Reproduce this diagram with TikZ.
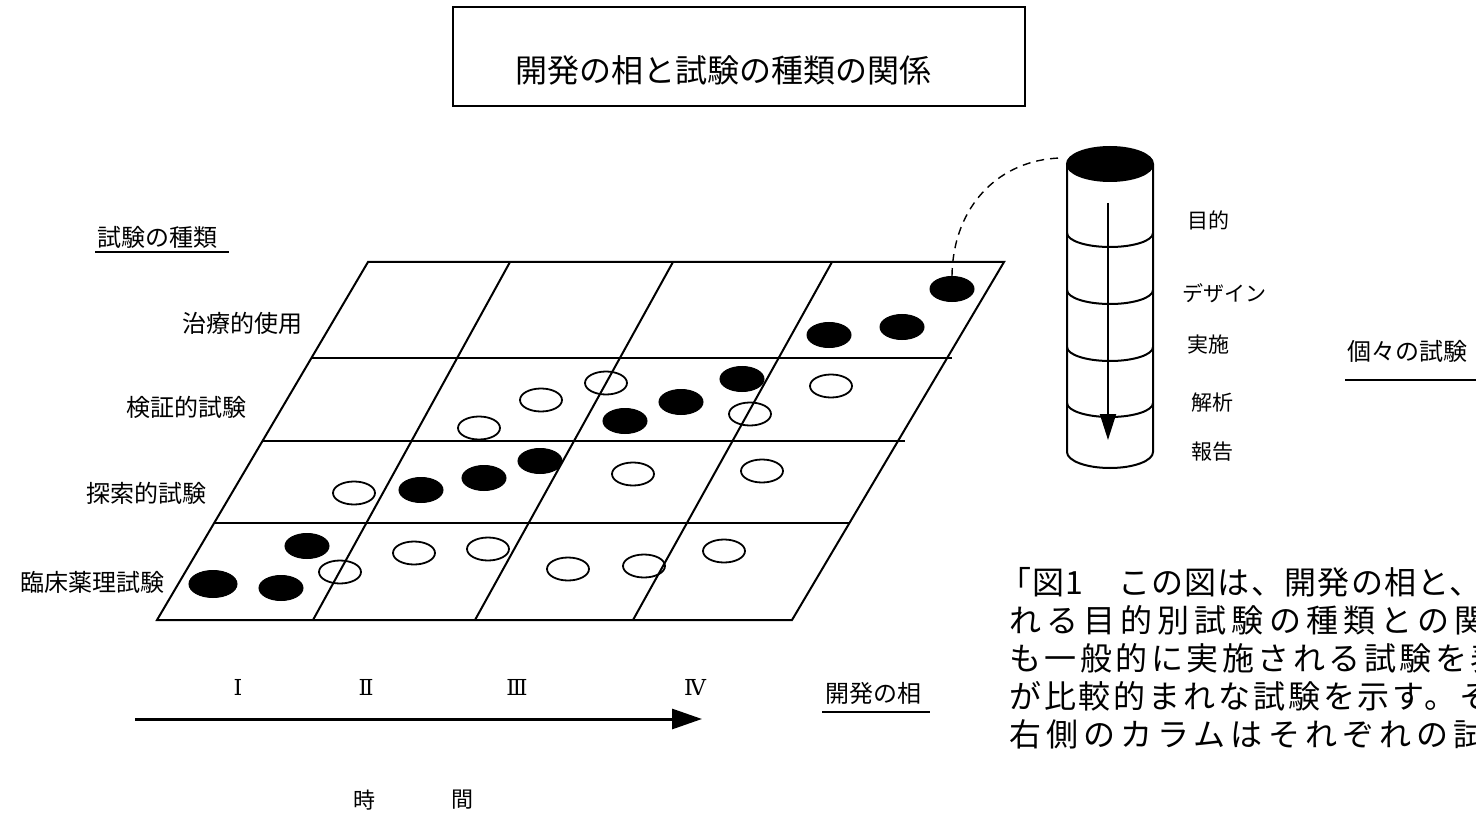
\documentclass[tikz,border=0pt]{standalone}
\usepackage{fontspec}
\setmainfont{Liberation Serif}
\newfontfamily\jp{Noto Sans CJK JP}
\newfontfamily\rn{DejaVu Serif}
\usetikzlibrary{arrows.meta,shapes.geometric}
\newcommand{\capls}[1]{\addfontfeature{LetterSpace=#1}}
\begin{document}
\begin{tikzpicture}[x=1pt,y=-1pt,
  gridline/.style={line width=2pt},
  bdot/.style={ellipse,fill=black,draw=black,line width=1pt,minimum width=44pt,minimum height=25pt,inner sep=0pt},
  wdot/.style={ellipse,draw=black,line width=1.8pt,minimum width=42pt,minimum height=23pt,inner sep=0pt},
  lab/.style={font=\jp\fontsize{24}{24}\selectfont,inner sep=0pt},
  small/.style={font=\jp\fontsize{21}{21}\selectfont,inner sep=0pt},
  roman/.style={font=\rn\fontsize{22}{22}\selectfont,inner sep=0pt},
  captext/.style={font=\jp\fontsize{32}{32}\selectfont,inner sep=0pt,anchor=base west},
  uline/.style={line width=1.6pt}]
\useasboundingbox (0,0) rectangle (1476,813);
\clip (0,0) rectangle (1476,813);
\fill[white] (0,0) rectangle (1476,813);

% title
\node[draw,line width=2.5pt,minimum width=572pt,minimum height=99pt,inner sep=0pt] (titlebox) at (739,56.5) {};
\node[font=\jp\fontsize{32}{32}\selectfont,inner sep=0pt] (title) at (723,70) {開発の相と試験の種類の関係};

% grid
\coordinate (t0) at (368,262); \coordinate (t1) at (510,262); \coordinate (t2) at (673,262);
\coordinate (t3) at (832,262); \coordinate (t4) at (1004,262);
\coordinate (b0) at (157,620); \coordinate (b1) at (313,620); \coordinate (b2) at (475,620);
\coordinate (b3) at (633,620); \coordinate (b4) at (792,620);
\draw[gridline,line join=miter] (t0) -- (t4) -- (b4) -- (b0) -- cycle;
\draw[gridline] (t1) -- (b1) (t2) -- (b2) (t3) -- (b3);
\coordinate (h1l) at (311.4,358); \coordinate (h1r) at (952,358);
\coordinate (h2l) at (262.5,441); \coordinate (h2r) at (905,441);
\coordinate (h3l) at (214,523); \coordinate (h3r) at (850,523);
\draw[gridline] (h1l) -- (h1r) (h2l) -- (h2r) (h3l) -- (h3r);

% row labels
\node[lab,anchor=west] (kind) at (97,237) {試験の種類};
\draw[uline] (95,252) -- (229,252);
\node[lab,anchor=east] (l4) at (303,323) {治療的使用};
\node[lab,anchor=east] (l3) at (247,407) {検証的試験};
\node[lab,anchor=east] (l2) at (207,493) {探索的試験};
\node[lab,anchor=east] (l1) at (165,582) {臨床薬理試験};

% dots: row 4
\node[bdot] (d41) at (829,335) {};
\node[bdot] (d42) at (902,327) {};
\node[bdot] (d43) at (952,289) {};
% row 3
\node[wdot] (d31) at (479,428) {};
\node[wdot] (d32) at (541,400) {};
\node[wdot] (d33) at (606,383) {};
\node[bdot] (d34) at (625,421) {};
\node[bdot] (d35) at (681,402) {};
\node[bdot] (d36) at (742,379) {};
\node[wdot] (d37) at (750,414) {};
\node[wdot] (d38) at (831,386) {};
% row 2
\node[wdot] (d21) at (354,493) {};
\node[bdot] (d22) at (421,490) {};
\node[bdot] (d23) at (484,478) {};
\node[bdot] (d24) at (540,461) {};
\node[wdot] (d25) at (633,474) {};
\node[wdot] (d26) at (762,471) {};
% row 1
\node[bdot,minimum width=48pt,minimum height=27pt] (d11) at (213,584) {};
\node[bdot] (d12) at (281,588) {};
\node[bdot] (d13) at (307,546) {};
\node[wdot] (d14) at (340,572) {};
\node[wdot] (d15) at (414,553) {};
\node[wdot] (d16) at (488,549) {};
\node[wdot] (d17) at (568,569) {};
\node[wdot] (d18) at (644,566) {};
\node[wdot] (d19) at (724,551) {};

% phases
\node[roman] (p1) at (238,687) {Ⅰ};
\node[roman] (p2) at (366,687) {Ⅱ};
\node[roman] (p3) at (517,687) {Ⅲ};
\node[roman] (p4) at (695,687) {Ⅳ};
\node[lab] (phase) at (873,693) {開発の相};
\draw[uline] (822,712) -- (930,712);
\coordinate (ts) at (135,719); \coordinate (te) at (702,719);
\draw[line width=3pt,-{Triangle[length=30pt,width=20pt]}] (ts) -- (te);
\node[font=\jp\fontsize{22}{22}\selectfont,inner sep=0pt] (ji) at (364,800) {時};
\node[font=\jp\fontsize{22}{22}\selectfont,inner sep=0pt] (kan) at (462,800) {間};

% cylinder
\draw[line width=2pt] (1067,164) -- (1067,452) arc[start angle=180,end angle=360,x radius=43pt,y radius=16pt] -- (1153,164);
\foreach \yy in {233,290,347,403}
  \draw[line width=2pt] (1067,\yy) arc[start angle=180,end angle=360,x radius=43pt,y radius=14pt];
\node[ellipse,fill=black,draw=black,line width=2pt,minimum width=86pt,minimum height=34pt,inner sep=0pt] (cyltop) at (1110,164) {};
\coordinate (as) at (1108,203); \coordinate (ae) at (1108,440);
\draw[line width=2pt,-{Triangle[length=26pt,width=16pt]}] (as) -- (ae);
\coordinate (dend) at (1060,158);
\draw[line width=1.4pt,dash pattern=on 8pt off 6pt] (d43.north) .. controls (953,205) and (1000,160) .. (dend);

\node[small] (s1) at (1208,220) {目的};
\node[small] (s2) at (1224,293) {デザイン};
\node[small] (s3) at (1208,345) {実施};
\node[small] (s4) at (1212,403) {解析};
\node[small] (s5) at (1212,452) {報告};
\node[lab,anchor=west] (indiv) at (1347,351) {個々の試験};
\draw[uline] (1345,380) -- (1480,380);

% caption (cut off by the right edge, as in the reference)
\node[captext] (c1) at (999,594) {\capls{4}「図1　この図は、開発の相と、};
\node[captext] (c2) at (1009,632) {\capls{16}れる目的別試験の種類との関};
\node[captext] (c3) at (1009,670) {\capls{11}も一般的に実施される試験を表};
\node[captext] (c4) at (1009,708) {\capls{9}が比較的まれな試験を示す。そ};
\node[captext] (c5) at (1009,746) {\capls{16}右側のカラムはそれぞれの試};
\end{tikzpicture}
\end{document}
